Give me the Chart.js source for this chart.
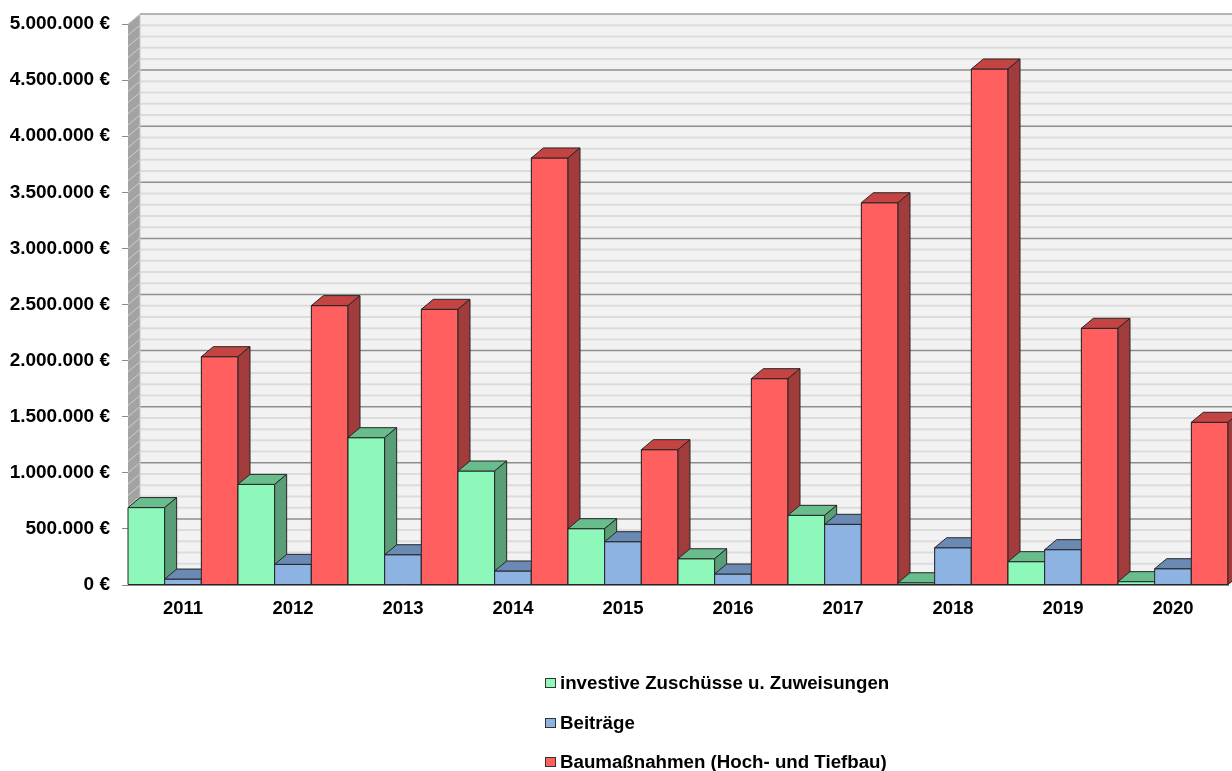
<!DOCTYPE html>
<html>
<head>
<meta charset="utf-8">
<script src="https://cdn.jsdelivr.net/npm/chart.js@4/dist/chart.umd.min.js"></script>
<style>
  html, body { margin: 0; padding: 0; background: #fff; }
  #wrap { position: relative; width: 1232px; height: 771px; overflow: hidden; }
  #c { position: absolute; left: 0; top: 0; }
  #legend { position: absolute; left: 545px; top: 670px; font-family: "Liberation Sans", Arial, sans-serif; font-weight: bold; font-size: 18.7px; color: #000; }
  .li { position: relative; height: 39.5px; line-height: 26px; white-space: nowrap; }
  .box { display: inline-block; width: 9px; height: 8px; border: 1px solid #333; margin-right: 4px; vertical-align: 1px; }
</style>
</head>
<body>
<div id="wrap">
  <canvas id="c" width="1232" height="771"></canvas>
  <div id="legend"></div>
</div>
<script>
const categories = ['2011','2012','2013','2014','2015','2016','2017','2018','2019','2020'];
const zuschuesse = [690000, 897000, 1313000, 1016000, 502000, 234000, 621000, 20000, 208000, 30000];
const beitraege = [53000, 184000, 270000, 125000, 386000, 98000, 541000, 332000, 315000, 145000];
const baumassnahmen = [2035000, 2490000, 2457000, 3806000, 1206000, 1839000, 3407000, 4599000, 2288000, 1450000];
const seriesNames = ['investive Zuschüsse u. Zuweisungen', 'Beiträge', 'Baumaßnahmen (Hoch- und Tiefbau)'];
const yMax = 5000000;
const yStep = 500000;
const minorStep = 100000;

const frontColors = ['#8DF8B9', '#8DB3E2', '#FF5F5F'];
const topColors = ['#69BC8C', '#6A89B3', '#C44444'];
const sideColors = ['#599E76', '#57729A', '#A23B3B'];

const DX = 12, DY = 10;

function fmt(v) {
  return String(v).replace(/\B(?=(\d{3})+(?!\d))/g, '.') + ' €';
}

const wallPlugin = {
  id: 'wall3d',
  beforeDatasetsDraw(chart) {
    const ctx = chart.ctx;
    const a = chart.chartArea;
    const y = chart.scales.y;
    ctx.save();
    ctx.fillStyle = '#F2F2F2';
    ctx.fillRect(a.left + DX, a.top - DY, chart.width - a.left - DX, a.bottom - a.top);
    ctx.beginPath();
    ctx.moveTo(a.left, a.bottom);
    ctx.lineTo(a.left + DX, a.bottom - DY);
    ctx.lineTo(chart.width, a.bottom - DY);
    ctx.lineTo(chart.width, a.bottom);
    ctx.closePath();
    ctx.fillStyle = '#F2F2F2';
    ctx.fill();
    ctx.beginPath();
    ctx.moveTo(a.left, a.top);
    ctx.lineTo(a.left + DX, a.top - DY);
    ctx.lineTo(a.left + DX, a.bottom - DY);
    ctx.lineTo(a.left, a.bottom);
    ctx.closePath();
    ctx.fillStyle = '#A3A3A3';
    ctx.fill();
    for (let v = 0; v <= yMax; v += minorStep) {
      const py = y.getPixelForValue(v);
      const major = v % yStep === 0;
      ctx.beginPath();
      ctx.moveTo(a.left + DX, py - DY);
      ctx.lineTo(chart.width, py - DY);
      if (v === yMax) { ctx.strokeStyle = '#B4B4B4'; ctx.lineWidth = 2; }
      else if (major) { ctx.strokeStyle = '#8E8E8E'; ctx.lineWidth = 1.5; }
      else { ctx.strokeStyle = '#DCDCDC'; ctx.lineWidth = 2; }
      ctx.stroke();
      ctx.beginPath();
      ctx.moveTo(a.left, py);
      ctx.lineTo(a.left + DX, py - DY);
      ctx.strokeStyle = '#CFCFCF';
      ctx.lineWidth = 1;
      ctx.stroke();
    }
    ctx.beginPath();
    ctx.moveTo(a.left + DX, a.top - DY);
    ctx.lineTo(a.left + DX, a.bottom - DY);
    ctx.strokeStyle = '#C8C8C8';
    ctx.lineWidth = 1;
    ctx.stroke();
    ctx.restore();
  }
};

const barsPlugin = {
  id: 'bars3d',
  afterDatasetsDraw(chart) {
    const ctx = chart.ctx;
    const items = [];
    chart.data.datasets.forEach((ds, di) => {
      const meta = chart.getDatasetMeta(di);
      if (meta.hidden) return;
      meta.data.forEach((el) => {
        const p = el.getProps(['x', 'y', 'base', 'width'], true);
        items.push({ di, left: p.x - p.width / 2, right: p.x + p.width / 2, top: Math.min(p.y, p.base), bottom: Math.max(p.y, p.base) });
      });
    });
    items.sort((a, b) => a.left - b.left);
    ctx.save();
    ctx.lineWidth = 1;
    ctx.strokeStyle = '#262626';
    ctx.lineJoin = 'round';
    items.forEach((b) => {
      ctx.beginPath();
      ctx.rect(b.left, b.top, b.right - b.left, b.bottom - b.top);
      ctx.fillStyle = frontColors[b.di];
      ctx.fill();
      ctx.stroke();
      ctx.beginPath();
      ctx.moveTo(b.left, b.top);
      ctx.lineTo(b.left + DX, b.top - DY);
      ctx.lineTo(b.right + DX, b.top - DY);
      ctx.lineTo(b.right, b.top);
      ctx.closePath();
      ctx.fillStyle = topColors[b.di];
      ctx.fill();
      ctx.stroke();
      ctx.beginPath();
      ctx.moveTo(b.right, b.top);
      ctx.lineTo(b.right + DX, b.top - DY);
      ctx.lineTo(b.right + DX, b.bottom - DY);
      ctx.lineTo(b.right, b.bottom);
      ctx.closePath();
      ctx.fillStyle = sideColors[b.di];
      ctx.fill();
      ctx.stroke();
    });
    ctx.restore();
  }
};

const chart = new Chart(document.getElementById('c'), {
  type: 'bar',
  data: {
    labels: categories,
    datasets: [
      { label: seriesNames[0], data: zuschuesse, backgroundColor: frontColors[0], borderColor: '#262626', borderWidth: 1 },
      { label: seriesNames[1], data: beitraege, backgroundColor: frontColors[1], borderColor: '#262626', borderWidth: 1 },
      { label: seriesNames[2], data: baumassnahmen, backgroundColor: frontColors[2], borderColor: '#262626', borderWidth: 1 }
    ]
  },
  options: {
    responsive: false,
    animation: false,
    layout: { padding: { top: 24, right: 4, bottom: 150, left: 0 } },
    datasets: { bar: { barPercentage: 1, categoryPercentage: 1 } },
    plugins: {
      legend: { display: false },
      tooltip: { enabled: false }
    },
    scales: {
      x: {
        grid: { display: false, drawTicks: false },
        border: { display: true, color: '#8A8A8A', width: 1 },
        ticks: { color: '#000', font: { family: 'Liberation Sans', weight: 'bold', size: 18.5 }, padding: 13, maxRotation: 0 },
        afterFit(s) { s.height = 36; }
      },
      y: {
        min: 0,
        max: yMax,
        grid: { drawOnChartArea: false, drawTicks: true, tickLength: 6, color: '#8A8A8A' },
        border: { display: true, color: '#8A8A8A', width: 1 },
        ticks: { stepSize: yStep, color: '#000', font: { family: 'Liberation Sans', weight: 'bold', size: 19 }, padding: 12, callback: (v) => fmt(v) },
        afterFit(s) { s.width = 128; }
      }
    }
  },
  plugins: [wallPlugin, barsPlugin]
});

const leg = document.getElementById('legend');
chart.data.datasets.forEach((ds, i) => {
  const d = document.createElement('div');
  d.className = 'li';
  const bx = document.createElement('span');
  bx.className = 'box';
  bx.style.background = frontColors[i];
  d.appendChild(bx);
  d.appendChild(document.createTextNode(ds.label));
  leg.appendChild(d);
});
</script>
</body>
</html>
